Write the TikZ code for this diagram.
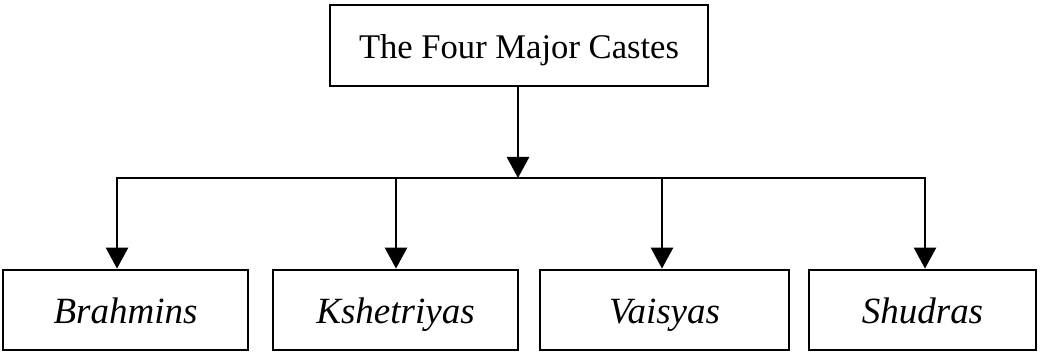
\documentclass[tikz,border=0pt]{standalone}
\usepackage{fontspec}
\setmainfont{Liberation Serif}
\usetikzlibrary{arrows.meta}
\begin{document}
\begin{tikzpicture}[x=0.5pt,y=-0.5pt,
  box/.style={draw,line width=1.4pt,inner sep=0pt,minimum height=40pt,
    text height=17pt,text depth=4pt,font=\fontsize{18}{22}\selectfont},
  lbl/.style={font=\fontsize{18.5}{22}\selectfont\itshape},
  conn/.style={line width=1.4pt,line cap=rect},
  arr/.style={line width=1.4pt,-{Triangle[length=10.5pt,width=11pt]}}]
\useasboundingbox[fill=white] (0,0) rectangle (1040,353);
\node[box,font=\fontsize{17.3}{22}\selectfont,minimum width=189pt,minimum height=40.5pt] (top) at (519,45.5) {The Four Major Castes};
\node[box,lbl,minimum width=122.5pt] (b1) at (125.5,310) {Brahmins};
\node[box,lbl,minimum width=122.5pt] (b2) at (395.5,310) {Kshetriyas};
\node[box,lbl,minimum width=124.5pt] (b3) at (664.5,310) {Vaisyas};
\node[box,lbl,minimum width=113.5pt] (b4) at (922.5,310) {Shudras};
\coordinate (j) at (518,178);
\coordinate (l) at (117,178);
\coordinate (r) at (925,178);
\coordinate (m2) at (396,178);
\coordinate (m3) at (662,178);
\draw[arr] (top.south -| j) -- (j);
\draw[conn] (l) -- (r);
\draw[arr] (l) -- (l |- b1.north);
\draw[arr] (m2) -- (m2 |- b2.north);
\draw[arr] (m3) -- (m3 |- b3.north);
\draw[arr] (r) -- (r |- b4.north);
\end{tikzpicture}
\end{document}
